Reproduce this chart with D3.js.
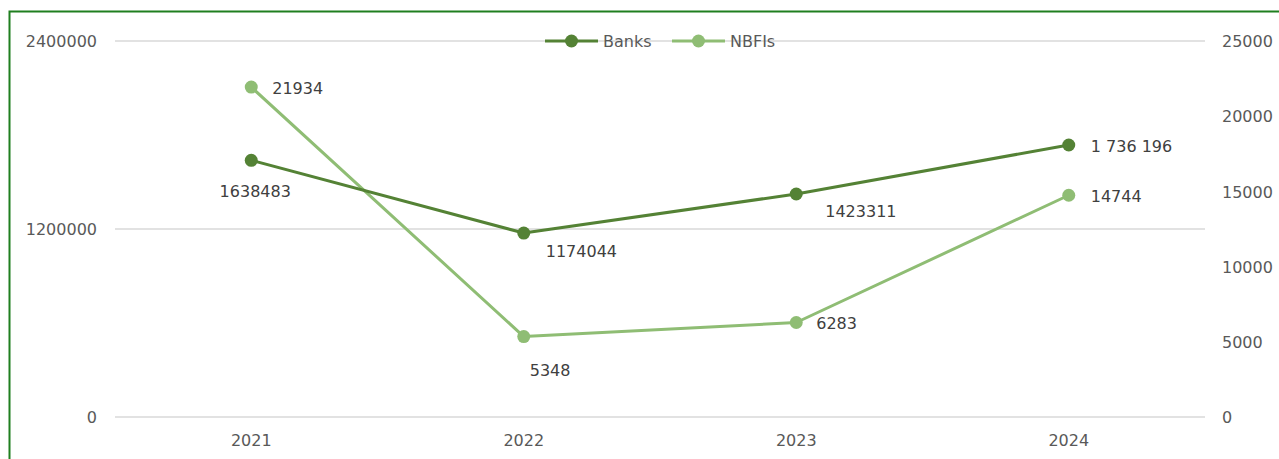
<!DOCTYPE html>
<html>
<head>
<meta charset="utf-8">
<script src="https://cdn.jsdelivr.net/npm/d3@7"></script>
<style>
  body { margin: 0; background: #fff; }
  svg text { font-family: "DejaVu Sans", sans-serif; fill: #595959; }
</style>
</head>
<body>
<svg id="chart" width="1279" height="459"></svg>
<script>
const years = ["2021", "2022", "2023", "2024"];
const banks = [1638483, 1174044, 1423311, 1736196];
const nbfis = [21934, 5348, 6283, 14744];
const bankLabels = ["1638483", "1174044", "1423311", "1 736 196"];
const nbfiLabels = ["21934", "5348", "6283", "14744"];
const leftTicks = [0, 1200000, 2400000];
const rightTicks = [0, 5000, 10000, 15000, 20000, 25000];

const bankColor = "#548235";
const nbfiColor = "#8fbd74";
const fontSize = "16px";

const svg = d3.select("#chart");

// outer frame (chart is cropped on the right and bottom)
svg.append("rect")
  .attr("x", 9.5).attr("y", 11.5)
  .attr("width", 1300).attr("height", 500)
  .attr("fill", "none").attr("stroke", "#1f7f1f").attr("stroke-width", 2);

const x = d3.scaleBand().domain(years).range([115, 1205]).padding(0);
const yL = d3.scaleLinear().domain([0, 2400000]).range([417, 41]);
const yR = d3.scaleLinear().domain([0, 25000]).range([417, 41]);

// gridlines
svg.append("g")
  .selectAll("line")
  .data(leftTicks)
  .join("line")
  .attr("x1", 115).attr("x2", 1205)
  .attr("y1", d => yL(d)).attr("y2", d => yL(d))
  .attr("stroke", "#d9d9d9").attr("stroke-width", 1.5);

// left axis
const leftAxis = svg.append("g")
  .attr("transform", "translate(97,0)")
  .call(d3.axisLeft(yL).tickValues(leftTicks).tickSize(0).tickPadding(0).tickFormat(d3.format("d")));
leftAxis.select(".domain").remove();
leftAxis.selectAll("text").style("font-size", fontSize).attr("dy", "0.35em");

// right axis
const rightAxis = svg.append("g")
  .attr("transform", "translate(1222,0)")
  .call(d3.axisRight(yR).tickValues(rightTicks).tickSize(0).tickPadding(0).tickFormat(d3.format("d")));
rightAxis.select(".domain").remove();
rightAxis.selectAll("text").style("font-size", fontSize).attr("dy", "0.35em");

// bottom axis
const bottomAxis = svg.append("g")
  .attr("transform", "translate(0,417)")
  .call(d3.axisBottom(x).tickSize(0).tickPadding(18));
bottomAxis.select(".domain").remove();
bottomAxis.selectAll("text").style("font-size", fontSize);

const cx = d => x(d) + x.bandwidth() / 2;

function drawSeries(values, yScale, color) {
  const line = d3.line()
    .x((d, i) => cx(years[i]))
    .y(d => yScale(d));
  svg.append("path")
    .datum(values)
    .attr("d", line)
    .attr("fill", "none")
    .attr("stroke", color)
    .attr("stroke-width", 3)
    .attr("stroke-linejoin", "round");
  svg.append("g")
    .selectAll("circle")
    .data(values)
    .join("circle")
    .attr("cx", (d, i) => cx(years[i]))
    .attr("cy", d => yScale(d))
    .attr("r", 6.5)
    .attr("fill", color);
}

drawSeries(nbfis, yR, nbfiColor);
drawSeries(banks, yL, bankColor);

// data labels: offsets relative to the point
const bankOffsets = [[4, 31, "middle"], [22, 18, "start"], [29, 17, "start"], [22, 1, "start"]];
const nbfiOffsets = [[21, 1, "start"], [6, 34, "start"], [20, 1, "start"], [22, 1, "start"]];

function drawLabels(values, labels, yScale, offsets) {
  svg.append("g")
    .selectAll("text")
    .data(values)
    .join("text")
    .attr("x", (d, i) => cx(years[i]) + offsets[i][0])
    .attr("y", (d, i) => yScale(d) + offsets[i][1])
    .attr("dy", "0.35em")
    .attr("text-anchor", (d, i) => offsets[i][2])
    .style("font-size", fontSize)
    .style("fill", "#404040")
    .text((d, i) => labels[i]);
}

drawLabels(banks, bankLabels, yL, bankOffsets);
drawLabels(nbfis, nbfiLabels, yR, nbfiOffsets);

// legend
const legend = [
  { name: "Banks", color: bankColor, x: 545 },
  { name: "NBFIs", color: nbfiColor, x: 672 }
];
const lg = svg.append("g").selectAll("g").data(legend).join("g")
  .attr("transform", d => `translate(${d.x},41)`);
lg.append("line")
  .attr("x1", 0).attr("x2", 53).attr("y1", 0).attr("y2", 0)
  .attr("stroke", d => d.color).attr("stroke-width", 3);
lg.append("circle").attr("cx", 26.5).attr("cy", 0).attr("r", 6.5).attr("fill", d => d.color);
lg.append("text")
  .attr("x", 58).attr("y", 0).attr("dy", "0.35em")
  .style("font-size", fontSize)
  .text(d => d.name);
</script>
</body>
</html>
